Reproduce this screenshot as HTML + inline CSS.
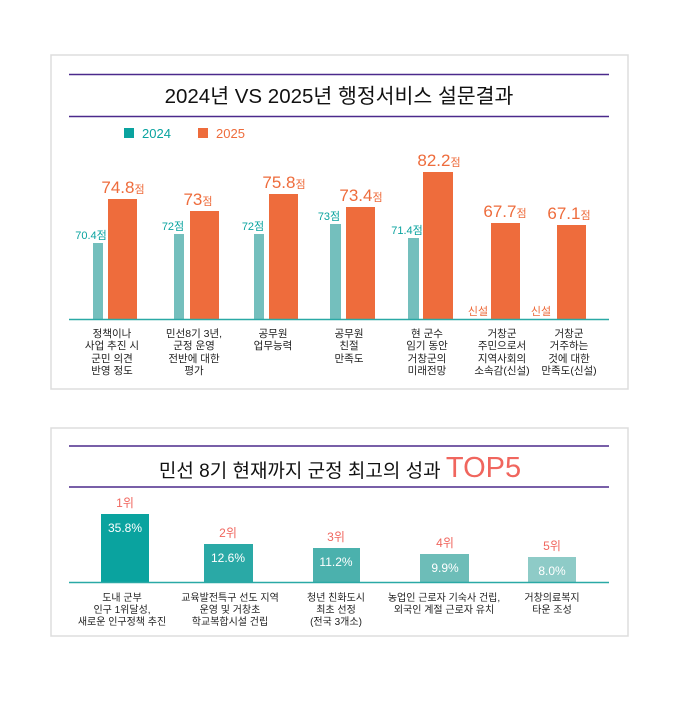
<!DOCTYPE html>
<html><head><meta charset="utf-8"><style>
body{margin:0;background:#fff;}
svg{display:block;font-family:"Liberation Sans","Noto Sans CJK KR",sans-serif;}
</style></head><body>
<svg width="680" height="704" viewBox="0 0 680 704" xmlns="http://www.w3.org/2000/svg">
<rect width="680" height="704" fill="#fff"/>
<!-- panel 1 -->
<rect x="51" y="55" width="577" height="334" fill="#fff" stroke="#ddd" stroke-width="1.5"/>
<line x1="69" y1="74.5" x2="609" y2="74.5" stroke="#4b2a8c" stroke-width="1.5"/>
<line x1="69" y1="116.5" x2="609" y2="116.5" stroke="#4b2a8c" stroke-width="1.5"/>
<text x="339" y="103" text-anchor="middle" font-size="20.5" fill="#111">2024년 VS 2025년 행정서비스 설문결과</text>
<rect x="124" y="128" width="10" height="10" fill="#0aa39f"/>
<text x="142" y="138" font-size="13" fill="#0aa39f">2024</text>
<rect x="198" y="128" width="10" height="10" fill="#ee6c3c"/>
<text x="216" y="138" font-size="13" fill="#ee6c3c">2025</text>
<g fill="#74bfbd">
<rect x="93" y="243" width="10" height="76"/>
<rect x="174" y="234" width="10" height="85"/>
<rect x="254" y="234" width="10" height="85"/>
<rect x="330" y="224" width="11" height="95"/>
<rect x="408" y="238" width="11" height="81"/>
</g>
<g fill="#ee6c3c">
<rect x="108" y="199" width="29" height="120"/>
<rect x="190" y="211" width="29" height="108"/>
<rect x="269" y="194" width="29" height="125"/>
<rect x="346" y="207" width="29" height="112"/>
<rect x="423" y="172" width="30" height="147"/>
<rect x="491" y="223" width="29" height="96"/>
<rect x="557" y="225" width="29" height="94"/>
</g>
<line x1="69" y1="319.5" x2="609" y2="319.5" stroke="#2aa9a6" stroke-width="1.5"/>
<g font-size="11" fill="#0aa39f" text-anchor="middle">
<text x="91" y="239">70.4점</text>
<text x="173" y="230">72점</text>
<text x="253" y="230">72점</text>
<text x="329" y="220">73점</text>
<text x="407" y="234">71.4점</text>
</g>
<g fill="#ee6c3c" text-anchor="middle">
<text x="123" y="193" font-size="17">74.8<tspan font-size="11">점</tspan></text>
<text x="198" y="205" font-size="17">73<tspan font-size="11">점</tspan></text>
<text x="284" y="188" font-size="17">75.8<tspan font-size="11">점</tspan></text>
<text x="361" y="201" font-size="17">73.4<tspan font-size="11">점</tspan></text>
<text x="439" y="166" font-size="17">82.2<tspan font-size="11">점</tspan></text>
<text x="505" y="217" font-size="17">67.7<tspan font-size="11">점</tspan></text>
<text x="569" y="219" font-size="17">67.1<tspan font-size="11">점</tspan></text>
<text x="478" y="315" font-size="11">신설</text>
<text x="541" y="315" font-size="11">신설</text>
</g>
<g font-size="10.5" fill="#222" text-anchor="middle">
<text x="112" y="337">정책이나</text><text x="112" y="349">사업 추진 시</text><text x="112" y="362">군민 의견</text><text x="112" y="374">반영 정도</text>
<text x="194" y="337">민선8기 3년,</text><text x="194" y="349">군정 운영</text><text x="194" y="362">전반에 대한</text><text x="194" y="374">평가</text>
<text x="273" y="337">공무원</text><text x="273" y="349">업무능력</text>
<text x="349" y="337">공무원</text><text x="349" y="349">친절</text><text x="349" y="362">만족도</text>
<text x="427" y="337">현 군수</text><text x="427" y="349">임기 동안</text><text x="427" y="362">거창군의</text><text x="427" y="374">미래전망</text>
<text x="502" y="337">거창군</text><text x="502" y="349">주민으로서</text><text x="502" y="362">지역사회의</text><text x="502" y="374">소속감(신설)</text>
<text x="569" y="337">거창군</text><text x="569" y="349">거주하는</text><text x="569" y="362">것에 대한</text><text x="569" y="374">만족도(신설)</text>
</g>
<!-- panel 2 -->
<rect x="51" y="428" width="577" height="208" fill="#fff" stroke="#ddd" stroke-width="1.5"/>
<line x1="69" y1="446" x2="609" y2="446" stroke="#4b2a8c" stroke-width="1.5"/>
<line x1="69" y1="487" x2="609" y2="487" stroke="#4b2a8c" stroke-width="1.5"/>
<text x="340" y="477" text-anchor="middle" font-size="19" fill="#111">민선 8기 현재까지 군정 최고의 성과 <tspan fill="#f0665e" font-size="29">TOP5</tspan></text>
<rect x="101" y="514" width="48" height="68" fill="#0aa39f"/>
<rect x="204" y="544" width="49" height="38" fill="#2aa9a6"/>
<rect x="313" y="548" width="47" height="34" fill="#4bb1ad"/>
<rect x="420" y="554" width="49" height="28" fill="#6dbdb8"/>
<rect x="528" y="557" width="48" height="25" fill="#8ecbc7"/>
<line x1="69" y1="582.5" x2="609" y2="582.5" stroke="#2aa9a6" stroke-width="1.5"/>
<g font-size="12" fill="#f0665e" text-anchor="middle">
<text x="125" y="507">1위</text><text x="228" y="537">2위</text><text x="336" y="541">3위</text><text x="445" y="547">4위</text><text x="552" y="550">5위</text>
</g>
<g font-size="12" fill="#fff" text-anchor="middle">
<text x="125" y="532">35.8%</text><text x="228" y="562">12.6%</text><text x="336" y="566">11.2%</text><text x="445" y="572">9.9%</text><text x="552" y="575">8.0%</text>
</g>
<g font-size="10" fill="#222" text-anchor="middle">
<text x="122" y="601">도내 군부</text><text x="122" y="613">인구 1위달성,</text><text x="122" y="625">새로운 인구정책 추진</text>
<text x="230" y="601">교육발전특구 선도 지역</text><text x="230" y="613">운영 및 거창초</text><text x="230" y="625">학교복합시설 건립</text>
<text x="336" y="601">청년 친화도시</text><text x="336" y="613">최초 선정</text><text x="336" y="625">(전국 3개소)</text>
<text x="444" y="601">농업인 근로자 기숙사 건립,</text><text x="444" y="613">외국인 계절 근로자 유치</text>
<text x="552" y="601">거창의료복지</text><text x="552" y="613">타운 조성</text>
</g>
</svg>
</body></html>
